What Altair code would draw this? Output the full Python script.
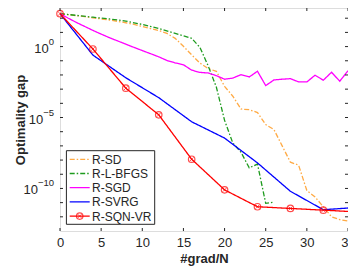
import altair as alt
import pandas as pd

# ---------------- data (log10 of optimality gap) ----------------
series_names = ["R-SD", "R-L-BFGS", "R-SGD", "R-SVRG", "R-SQN-VR"]

sd_x = list(range(36))
sd_exp = [2.32, 2.25, 2.18, 2.11, 2.03, 1.95, 1.87, 1.78, 1.68, 1.56, 1.42, 1.27,
          1.13, 0.93, 0.58, 0.02, -0.58, -1.16, -1.55, -1.74, -2.8, -3.5, -4.4,
          -4.45, -4.65, -5.5, -5.85, -7.0, -8.15, -8.36, -10.15, -10.6, -11.3,
          -12.0, -12.2, -12.3]

lbfgs_x = [0, 2, 4, 6, 8, 10, 12, 14, 16, 17, 18, 19, 20, 21, 22, 23, 24, 25, 26]
lbfgs_exp = [2.32, 2.2, 2.07, 1.95, 1.8, 1.56, 1.28, 0.93, 0.58, -0.05, -1.35,
             -2.85, -5.2, -6.8, -7.45, -8.55, -8.28, -11.05, -10.97]

sgd_x = list(range(36))
sgd_exp = [2.32, 2.0, 1.7, 1.42, 1.14, 0.88, 0.63, 0.4, 0.17, -0.06, -0.28, -0.5,
           -0.72, -0.98, -1.15, -1.28, -1.66, -1.82, -1.86, -2.05, -2.3, -2.22,
           -1.98, -2.14, -1.74, -2.75, -2.35, -2.3, -2.26, -2.49, -2.49, -2.02,
           -2.37, -1.81, -2.44, -1.7]

svrg_x = [0, 4, 8, 12, 16, 20, 24, 28, 32, 35]
svrg_exp = [2.32, -0.6, -2.2, -3.6, -5.3, -6.45, -8.2, -10.2, -11.5, -11.38]

sqn_x = [0, 4, 8, 12, 16, 20, 24, 28, 32, 35]
sqn_exp = [2.32, -0.17, -2.93, -4.81, -7.94, -10.1, -11.29, -11.41, -11.53, -11.62]
sqn_marker = [True, True, True, True, True, True, True, True, True, False]

x_ticks = [0, 5, 10, 15, 20, 25, 30, 35]
y_minor_exps = list(range(-12, 3))
y_label_exps = [0, -5, -10]

# ---------------- styles ----------------
colors = ["#FFAA44", "#1E9B1E", "#FF00FF", "#0000FF", "#FF0000"]
dashes = [[5, 2, 1.5, 2], [5, 2, 1.5, 2], [1, 0], [1, 0], [1, 0]]
FONT = "Liberation Sans"
TXT = "#262626"
W, H = 288, 223

all_x = [sd_x, lbfgs_x, sgd_x, svrg_x, sqn_x]
all_e = [sd_exp, lbfgs_exp, sgd_exp, svrg_exp, sqn_exp]

xs = alt.Scale(domain=[0, 35], nice=False, zero=False)
ys = alt.Scale(type="log", domain=[1e-13, 10 ** 2.72], nice=False)
xaxis = alt.Axis(values=x_ticks, ticks=False, domain=False, grid=False,
                 labelFontSize=13, labelPadding=5, labelColor=TXT,
                 title="#grad/N", titleFontSize=13, titleFontWeight="bold",
                 titleColor=TXT, titlePadding=3, labelFont=FONT, titleFont=FONT,
                 labelOverlap=False, labelBound=False, labelFlush=False)
yaxis = alt.Axis(labels=False, ticks=False, domain=False, grid=False,
                 title="Optimality gap", titleFontSize=13, titleFontWeight="bold",
                 titleColor=TXT, titlePadding=33, titleFont=FONT)


def X(f):
    return alt.X(f, type="quantitative", scale=xs, axis=xaxis)


def Y(f):
    return alt.Y(f, type="quantitative", scale=ys, axis=yaxis)


layers = []
for name, xv, ev, c, d in zip(series_names, all_x, all_e, colors, dashes):
    df = pd.DataFrame({"x": xv, "e": ev})
    layers.append(
        alt.Chart(df).transform_calculate(v="pow(10, datum.e)")
        .mark_line(color=c, strokeWidth=1.3, strokeDash=d, clip=True)
        .encode(x=X("x"), y=Y("v"))
    )

mk = pd.DataFrame({"x": sqn_x, "e": sqn_exp, "m": sqn_marker})
mk = mk[mk["m"]]
layers.append(
    alt.Chart(mk).transform_calculate(v="pow(10, datum.e)")
    .mark_point(shape="circle", size=42, color="#FF0000", strokeWidth=1.2, filled=False)
    .encode(x=X("x"), y=Y("v"))
)
layers.append(
    alt.Chart(mk).transform_calculate(v="pow(10, datum.e)")
    .mark_point(shape="M-0.55,-0.55L0.55,0.55M-0.55,0.55L0.55,-0.55", size=42,
                color="#FF0000", strokeWidth=1, filled=False)
    .encode(x=X("x"), y=Y("v"))
)

# inward ticks
ytk = pd.DataFrame({"e": y_minor_exps})
xtk = pd.DataFrame({"t": x_ticks})
for x0, x1 in [(0, 3), (W - 3, W)]:
    layers.append(
        alt.Chart(ytk).transform_calculate(v="pow(10, datum.e)")
        .mark_rule(color=TXT, strokeWidth=1)
        .encode(y=Y("v"), x=alt.value(x0), x2=alt.value(x1))
    )
for y0, y1 in [(0, 3), (H - 3, H)]:
    layers.append(
        alt.Chart(xtk).mark_rule(color=TXT, strokeWidth=1)
        .encode(x=X("t"), y=alt.value(y0), y2=alt.value(y1))
    )

# y tick labels 10^k
for e in y_label_exps:
    ex = str(e).replace("-", "\u2212")
    ew = 5.3 * len(str(abs(e))) + (5.5 if e < 0 else 0)
    d1 = pd.DataFrame({"e": [e]})
    layers.append(
        alt.Chart(d1).transform_calculate(v="pow(10, datum.e)")
        .mark_text(text="10", align="right", baseline="middle", dx=-(6 + ew), dy=2,
                   fontSize=13, font=FONT, color=TXT)
        .encode(y=Y("v"), x=alt.value(0))
    )
    layers.append(
        alt.Chart(d1).transform_calculate(v="pow(10, datum.e)")
        .mark_text(text=ex, align="right", baseline="middle", dx=-6, dy=-5,
                   fontSize=9.5, font=FONT, color=TXT)
        .encode(y=Y("v"), x=alt.value(0))
    )

# legend
one = pd.DataFrame({"a": [0]})
layers.append(
    alt.Chart(one).mark_rect(fill="white", stroke=TXT, strokeWidth=1)
    .encode(x=alt.value(6.4), x2=alt.value(94.7), y=alt.value(142.7), y2=alt.value(216.3))
)
leg_y0, leg_dy = 151.3, 14.2
for i, (name, c, d) in enumerate(zip(series_names, colors, dashes)):
    yy = leg_y0 + leg_dy * i
    layers.append(
        alt.Chart(one).mark_rule(color=c, strokeWidth=1.3, strokeDash=d)
        .encode(x=alt.value(9.7), x2=alt.value(29.7), y=alt.value(yy))
    )
    layers.append(
        alt.Chart(one).mark_text(text=name, align="left", baseline="middle",
                                 fontSize=12, font=FONT, color=TXT)
        .encode(x=alt.value(32), y=alt.value(yy + 0.5))
    )
yy = leg_y0 + leg_dy * 4
layers.append(
    alt.Chart(one).mark_point(shape="circle", size=42, color="#FF0000",
                              strokeWidth=1.2, filled=False)
    .encode(x=alt.value(19.7), y=alt.value(yy))
)
layers.append(
    alt.Chart(one).mark_point(shape="M-0.55,-0.55L0.55,0.55M-0.55,0.55L0.55,-0.55",
                              size=42, color="#FF0000", strokeWidth=1, filled=False)
    .encode(x=alt.value(19.7), y=alt.value(yy))
)

chart = (
    alt.layer(*layers)
    .properties(width=W, height=H,
                autosize=alt.AutoSizeParams(type="none"),
                padding={"left": 52, "top": 0, "right": 0, "bottom": 38})
    .configure_view(stroke=TXT, strokeWidth=1)
    .configure(font=FONT, background="white")
)
chart.save("out.html", embed_options={"renderer": "svg", "actions": False})
